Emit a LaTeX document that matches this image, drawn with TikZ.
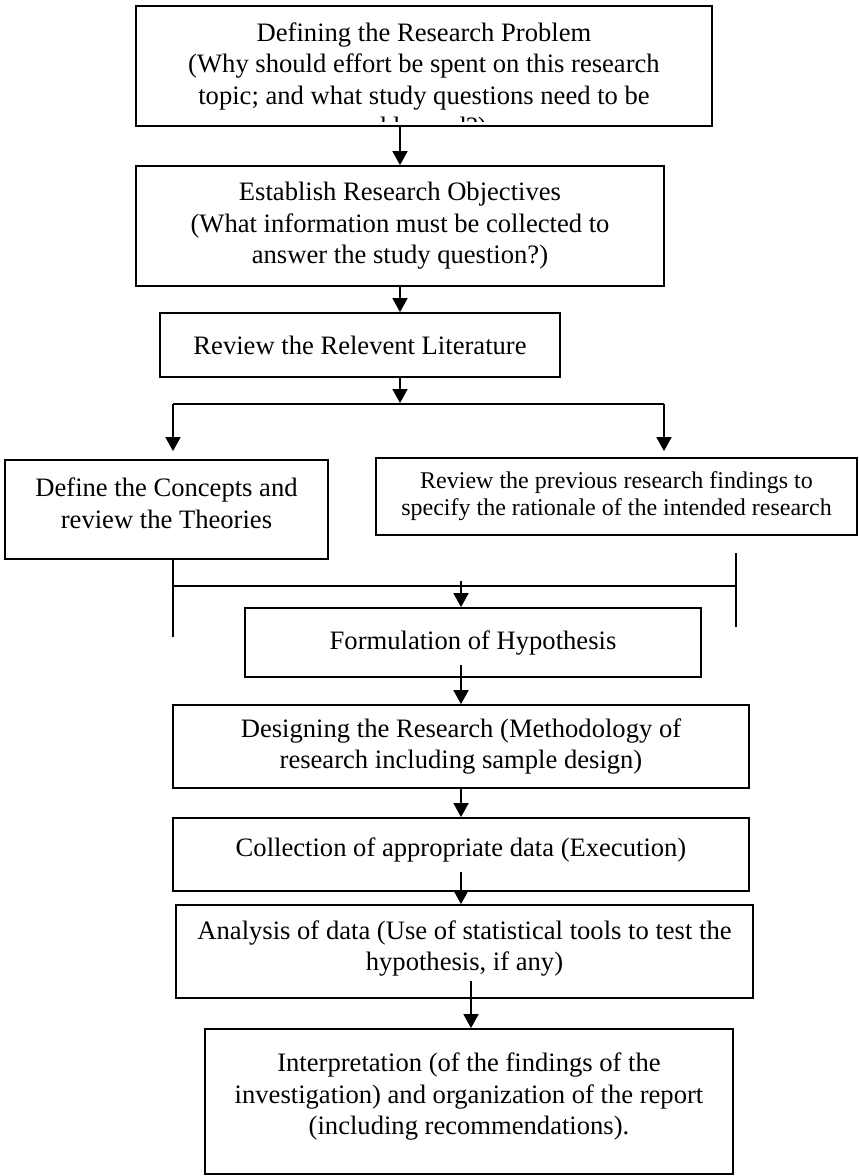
\documentclass[tikz,border=0pt]{standalone}
\usepackage{fontspec}
\setmainfont{Liberation Serif}
\usetikzlibrary{arrows.meta}
\begin{document}
\begin{tikzpicture}[x=1pt,y=-1pt,
  box/.style={draw,line width=1.8pt,inner sep=0pt},
  txt/.style={inner sep=0pt,align=center,font=\fontsize{26.6}{31.5}\selectfont},
  smalltxt/.style={inner sep=0pt,align=center,font=\fontsize{24}{27}\selectfont},
  arr/.style={line width=1.8pt,-{Triangle[width=15pt,length=14pt]}},
  ln/.style={line width=1.8pt}]
\useasboundingbox (0,0) rectangle (859,1176);
% boxes
\node[box,minimum width=576pt,minimum height=120pt] (b1) at (424,66) {};
\node[box,minimum width=528pt,minimum height=120pt] (b2) at (400,226) {};
\node[box,minimum width=400pt,minimum height=64pt] (b3) at (360,345) {};
\node[box,minimum width=323pt,minimum height=99pt] (L) at (166.5,509.5) {};
\node[box,minimum width=481pt,minimum height=77pt] (R) at (616.5,496.5) {};
\node[box,minimum width=456pt,minimum height=69pt] (F) at (473,642.5) {};
\node[box,minimum width=576pt,minimum height=83pt] (D) at (461,746.5) {};
\node[box,minimum width=576pt,minimum height=73pt] (C) at (461,854.5) {};
\node[box,minimum width=577pt,minimum height=93pt] (A) at (464.5,951.5) {};
\node[box,minimum width=528pt,minimum height=145pt] (I) at (469,1101.5) {};
% texts
\begin{scope}
  \clip (b1.north west) rectangle ([yshift=5pt]b1.south east);
  \node[txt] (t1) at (424,82) {Defining the Research Problem\\(Why should effort be spent on this research\\topic; and what study questions need to be\\addressed?)};
\end{scope}
\node[txt] (t2) at (b2.center) {Establish Research Objectives\\(What information must be collected to\\answer the study question?)};
\node[txt] (t3) at (b3.center) {Review the Relevent Literature};
\node[txt,yshift=6pt] (tL) at (L.center) {Define the Concepts and\\review the Theories};
\node[smalltxt] (tR) at (R.center) {Review the previous research findings to\\specify the rationale of the intended research};
\node[txt] (tF) at (F.center) {Formulation of Hypothesis};
\node[txt] (tD) at (D.center) {Designing the Research (Methodology of\\research including sample design)};
\node[txt,yshift=5pt] (tC) at (C.center) {Collection of appropriate data (Execution)};
\node[txt,yshift=3pt] (tA) at (A.center) {Analysis of data (Use of statistical tools to test the\\hypothesis, if any)};
\node[txt,yshift=5pt] (tI) at (I.center) {Interpretation (of the findings of the\\investigation) and organization of the report\\(including recommendations).};
% coordinates
\coordinate (c400) at (400,0);
\coordinate (br) at (400,403);
\coordinate (bl) at (173,404);
\coordinate (bR) at (664,404);
\coordinate (lvend) at (173,637);
\coordinate (mL) at (173,586);
\coordinate (mR) at (736,586);
\coordinate (rvtop) at (736,553);
\coordinate (rvend) at (736,627);
\coordinate (mA) at (461,581);
\coordinate (fA) at (461,665);
\coordinate (cA) at (461,872);
\coordinate (aA) at (471,981);
% connectors
\draw[arr] (b1.south -| c400) -- (b2.north -| c400);
\draw[arr] (b2.south -| c400) -- (b3.north -| c400);
\draw[arr] (b3.south -| br) -- (br);
\draw[ln] (bl) -- (bR);
\draw[arr,shorten >=8pt] (bl) -- (L.north -| bl);
\draw[arr,shorten >=6pt] (bR) -- (R.north -| bR);
\draw[ln] (L.south -| bl) -- (lvend);
\draw[ln] (mL) -- (mR);
\draw[ln] (rvtop) -- (rvend);
\draw[arr] (mA) -- (F.north -| mA);
\draw[arr] (fA) -- (D.north -| fA);
\draw[arr] (D.south -| fA) -- (C.north -| fA);
\draw[arr] (cA) -- (A.north -| cA);
\draw[arr] (aA) -- (I.north -| aA);
\end{tikzpicture}
\end{document}
